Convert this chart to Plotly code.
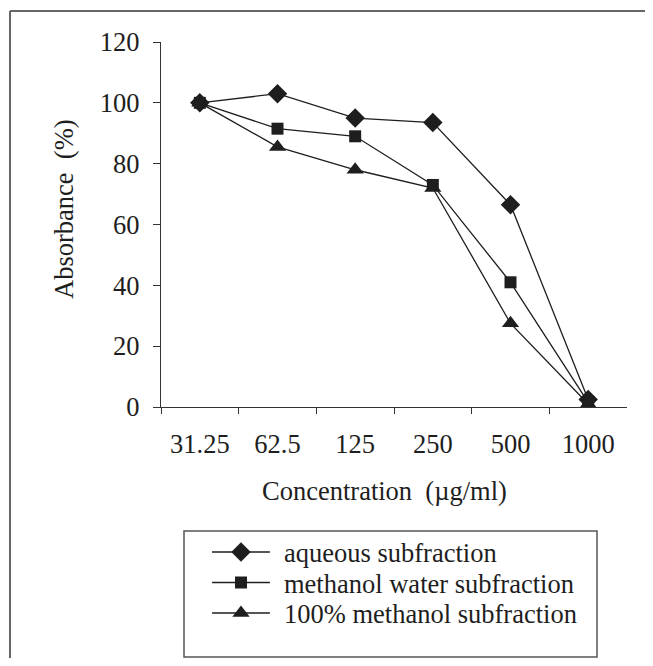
import plotly.graph_objects as go

categories = ["31.25", "62.5", "125", "250", "500", "1000"]
aqueous = [100, 103, 95, 93.5, 66.5, 2.5]
methanol_water = [100, 91.5, 89, 73, 41, 1.5]
methanol_100 = [100, 85.5, 78, 72, 27.5, 1]
y_ticks = [0, 20, 40, 60, 80, 100, 120]
series_names = ["aqueous subfraction", "methanol water subfraction", "100% methanol subfraction"]

series = [
    (series_names[0], aqueous, "diamond", 15),
    (series_names[1], methanol_water, "square", 12),
    (series_names[2], methanol_100, "triangle-up", 15),
]

FONT = "Liberation Serif, Times New Roman, serif"
INK = "#1e1e1e"
FS = 26.5

# page body has an 8px margin; figure sized to fit inside the window
OFF = 8
W, H = 653 - OFF, 666 - 2 * OFF

def fx(px):
    return (px - OFF) / W

def fy(py):
    return 1 - (py - OFF) / H

fig = go.Figure()
for name, vals, sym, sz in series:
    fig.add_trace(go.Scatter(
        x=categories, y=vals, name=name, mode="lines+markers",
        line=dict(color=INK, width=1.3),
        marker=dict(symbol=sym, size=sz, color=INK),
        xaxis="x", yaxis="y", showlegend=False,
    ))

# hand-built legend on its own axes (row index on y)
sample_x = [0.068, 0.138, 0.208]
annotations = []
for i, (name, vals, sym, sz) in enumerate(series):
    fig.add_trace(go.Scatter(
        x=sample_x, y=[i, i, i], mode="lines",
        line=dict(color=INK, width=1.3), xaxis="x2", yaxis="y2",
        showlegend=False, hoverinfo="skip",
    ))
    fig.add_trace(go.Scatter(
        x=[sample_x[1]], y=[i], mode="markers",
        marker=dict(symbol=sym, size=sz, color=INK), xaxis="x2", yaxis="y2",
        showlegend=False, hoverinfo="skip",
    ))
    annotations.append(dict(
        text=name, x=0.237, y=i + 0.04, xref="x2", yref="y2",
        showarrow=False, xanchor="left", yanchor="middle",
        font=dict(size=FS),
    ))

annotations += [
    dict(text="Concentration \u00a0(\u00b5g/ml)", x=fx(384), y=fy(491),
         xref="paper", yref="paper", showarrow=False,
         xanchor="center", yanchor="middle", font=dict(size=FS)),
    dict(text="Absorbance \u00a0(%)", x=fx(64), y=fy(209),
         xref="paper", yref="paper", showarrow=False, textangle=-90,
         xanchor="center", yanchor="middle", font=dict(size=FS)),
]

row0, rowgap = 552, 30.5
leg_top, leg_bot = 531, 657
y2_top = (leg_top - row0) / rowgap
y2_bot = (leg_bot - row0) / rowgap

fig.update_layout(
    width=W, height=H, autosize=False,
    margin=dict(l=0, r=0, t=0, b=0, pad=0, autoexpand=False),
    paper_bgcolor="white", plot_bgcolor="white",
    font=dict(family=FONT, size=FS, color=INK),
    showlegend=False,
    xaxis=dict(
        domain=[fx(161), fx(627)], automargin=False,
        type="category", range=[-0.5, 5.5], tickson="boundaries",
        showline=True, linecolor="#333333", linewidth=1.2,
        ticks="outside", ticklen=6, tickcolor="#333333", tickwidth=1.2,
        showgrid=False, zeroline=False, ticklabelstandoff=13,
        anchor="y",
    ),
    yaxis=dict(
        domain=[fy(407), fy(42)], automargin=False,
        range=[0, 120], tickvals=y_ticks,
        showline=True, linecolor="#333333", linewidth=1.2,
        ticks="outside", ticklen=7, tickcolor="#333333", tickwidth=1.2,
        showgrid=False, zeroline=False, ticklabelstandoff=8,
        anchor="x",
    ),
    xaxis2=dict(
        domain=[fx(184), fx(597)], range=[0, 1], automargin=False,
        visible=False, anchor="y2",
    ),
    yaxis2=dict(
        domain=[fy(leg_bot), fy(leg_top)], range=[y2_bot, y2_top],
        automargin=False, visible=False, anchor="x2",
    ),
    annotations=annotations,
    shapes=[
        dict(type="line", xref="paper", yref="paper",
             x0=fx(10), x1=fx(10), y0=0, y1=fy(11),
             line=dict(color="#666666", width=2)),
        dict(type="line", xref="paper", yref="paper",
             x0=fx(10), x1=1, y0=fy(11), y1=fy(11),
             line=dict(color="#666666", width=2)),
        dict(type="rect", xref="x2 domain", yref="y2 domain",
             x0=0, x1=1, y0=0, y1=1,
             line=dict(color="#555555", width=1.5), fillcolor="white",
             layer="below"),
    ],
)

fig.write_html("out.html")
